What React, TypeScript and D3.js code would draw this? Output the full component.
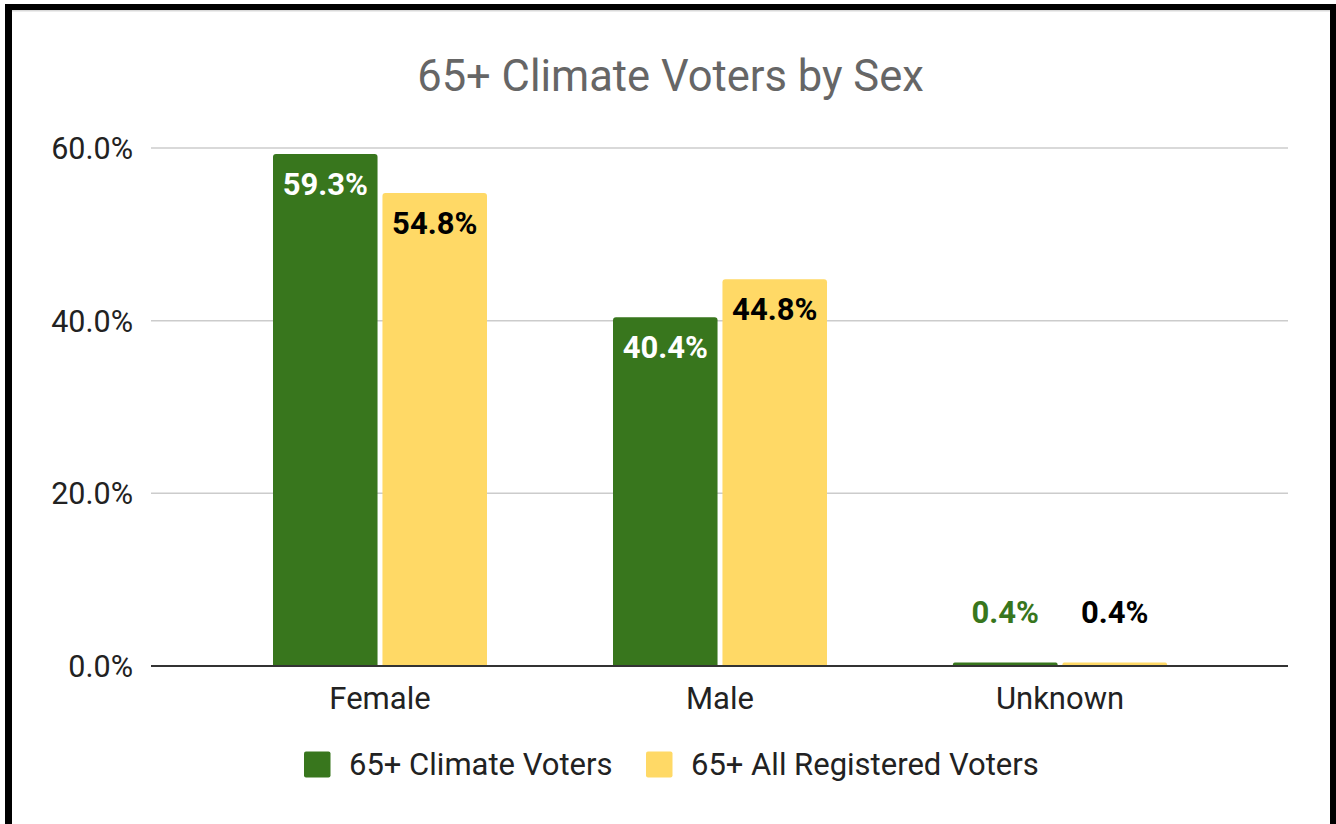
import React from "react";
import * as d3 from "d3";

const categories = ["Female", "Male", "Unknown"];
const seriesNames = ["65+ Climate Voters", "65+ All Registered Voters"];
const climateVoters = [59.3, 40.4, 0.4];
const allRegistered = [54.8, 44.8, 0.4];
const yTicks = [0, 20, 40, 60];
const colors = ["#38761d", "#ffd966"];

const W = 1336;
const H = 824;

export default function App() {
  const y = d3.scaleLinear().domain([0, 60]).range([666, 148]);
  const x = d3.scaleBand().domain(categories).range([210, 1230]).paddingInner(0).paddingOuter(0);
  const inner = d3.scaleBand().domain(["0", "1"]).range([0, 214]).paddingInner(0.045);
  const series = [climateVoters, allRegistered];
  const font = "Roboto, 'Noto Sans', sans-serif";
  const fs = 31;

  return (
    <div style={{ position: "absolute", left: 0, top: 0, width: W, height: H, background: "#fff" }}>
      <svg width={W} height={H} style={{ display: "block", fontFamily: font }}>
        <rect x={0} y={0} width={W} height={H} fill="#fff" />
        {/* frame */}
        <rect x={12} y={10} width={1318} height={1.5} fill="#d9d9d9" />
        <rect x={5} y={4} width={W - 5} height={6} fill="#000" />
        <rect x={5} y={4} width={7} height={H - 4} fill="#000" />
        <rect x={1330} y={4} width={6} height={H - 4} fill="#000" />

        <text x={670.5} y={91} textAnchor="middle" fontSize={43.5} fill="#666666">
          65+ Climate Voters by Sex
        </text>

        {yTicks.map((t) => (
          <g key={t}>
            {t !== 0 && (
              <line x1={151} x2={1288} y1={y(t)} y2={y(t)} stroke="#cccccc" strokeWidth={1.5} />
            )}
            <text x={133} y={y(t)} dy="0.36em" textAnchor="end" fontSize={30.5} fill="#222">
              {d3.format(".1f")(t) + "%"}
            </text>
          </g>
        ))}

        {categories.map((c, ci) => (
          <g key={c} transform={`translate(${(x(c) as number) + (x.bandwidth() - 214) / 2},0)`}>
            {series.map((s, si) => {
              const bx = inner(String(si)) as number;
              const bw = inner.bandwidth();
              const v = s[ci];
              const top = y(v);
              const h = y(0) - top;
              const r = Math.min(3, h / 2);
              const path = `M${bx},${y(0)} V${top + r} Q${bx},${top} ${bx + r},${top} H${bx + bw - r} Q${bx + bw},${top} ${bx + bw},${top + r} V${y(0)} Z`;
              const inside = h > 60;
              const labelColor = inside ? (si === 0 ? "#ffffff" : "#000000") : si === 0 ? colors[0] : "#000000";
              return (
                <g key={si}>
                  <path d={path} fill={colors[si]} />
                  <text
                    x={bx + bw / 2}
                    y={inside ? top + 41 : 623}
                    textAnchor="middle"
                    fontSize={fs}
                    fontWeight="bold"
                    fill={labelColor}
                  >
                    {d3.format(".1f")(v) + "%"}
                  </text>
                </g>
              );
            })}
          </g>
        ))}

        <line x1={151} x2={1288} y1={y(0)} y2={y(0)} stroke="#333333" strokeWidth={2} />

        {categories.map((c) => (
          <text
            key={c}
            x={(x(c) as number) + x.bandwidth() / 2}
            y={709}
            textAnchor="middle"
            fontSize={fs}
            fill="#222"
          >
            {c}
          </text>
        ))}

        {/* legend */}
        {seriesNames.map((n, i) => {
          const lx = i === 0 ? 304 : 646;
          return (
            <g key={n}>
              <rect x={lx} y={751.5} width={26.5} height={26} rx={2} fill={colors[i]} />
              <text x={lx + 45} y={775} fontSize={fs} fill="#222">
                {n}
              </text>
            </g>
          );
        })}
      </svg>
    </div>
  );
}
